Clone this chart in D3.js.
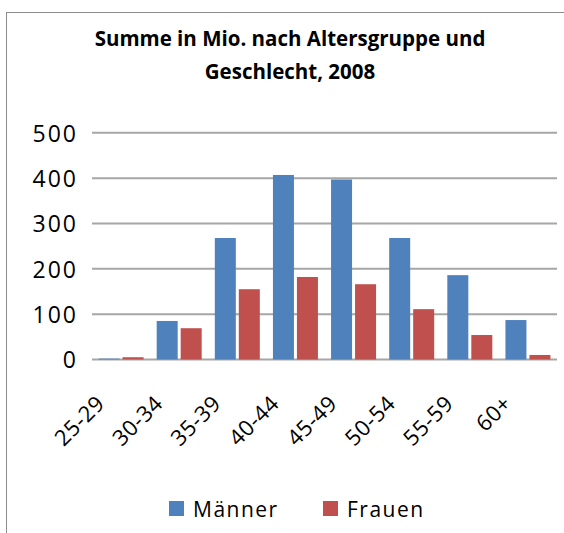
<!DOCTYPE html>
<html>
<head>
<meta charset="utf-8">
<script src="https://cdn.jsdelivr.net/npm/d3@7"></script>
<style>
body{margin:0;background:#fff;}
text{font-family:"Open Sans","Liberation Sans",sans-serif;}
</style>
</head>
<body>
<svg id="chart" width="564" height="533"></svg>
<script>
// data
var ageGroups = ["25-29","30-34","35-39","40-44","45-49","50-54","55-59","60+"]
var maenner = [2,85,268,407,397,268,186,87]
var frauen = [5,69,155,182,166,111,54,10]
var seriesNames = ["Männer","Frauen"]
var seriesColors = ["#4F81BD","#C0504D"]
var yTicks = [0,100,200,300,400,500]

var svg = d3.select("#chart")

// outer frame
svg.append("rect")
  .attr("x",6.5).attr("y",12.5)
  .attr("width",570).attr("height",540)
  .attr("fill","none").attr("stroke","#8c8c8c").attr("stroke-width",1)

svg.append("text")
  .attr("x",290).attr("y",46)
  .attr("text-anchor","middle")
  .attr("font-size",20.5).attr("font-weight","bold")
  .text("Summe in Mio. nach Altersgruppe und")
svg.append("text")
  .attr("x",290).attr("y",79)
  .attr("text-anchor","middle")
  .attr("font-size",20.5).attr("font-weight","bold")
  .text("Geschlecht, 2008")

var x = d3.scaleBand().domain(ageGroups).range([92,557]).paddingInner(0).paddingOuter(0)
var y = d3.scaleLinear().domain([0,500]).range([359.5,132.8])

// gridlines
svg.append("g").selectAll("line").data(yTicks).enter().append("line")
  .attr("x1",92).attr("x2",557)
  .attr("y1",d=>y(d)).attr("y2",d=>y(d))
  .attr("stroke","#a6a6a6").attr("stroke-width",2)

var yAxis = svg.append("g")
  .attr("transform","translate(92,0)")
  .call(d3.axisLeft(y).tickValues(yTicks).tickSize(0).tickPadding(14))
yAxis.select(".domain").remove()
yAxis.selectAll("text")
  .attr("font-size",23).attr("fill","#000")
  .attr("letter-spacing",2)
  .attr("dy","0.36em")
  .style("font-family","'Open Sans','Liberation Sans',sans-serif")

var barW = 21
var groups = svg.append("g").selectAll("g").data(ageGroups).enter().append("g")
  .attr("transform",d=>"translate("+x(d)+",0)")

groups.append("rect")
  .attr("x",d=>x.bandwidth()/2-barW-1.5)
  .attr("y",(d,i)=>y(maenner[i]))
  .attr("width",barW)
  .attr("height",(d,i)=>y(0)-y(maenner[i]))
  .attr("fill",seriesColors[0])

groups.append("rect")
  .attr("x",d=>x.bandwidth()/2+1.5)
  .attr("y",(d,i)=>y(frauen[i]))
  .attr("width",barW)
  .attr("height",(d,i)=>y(0)-y(frauen[i]))
  .attr("fill",seriesColors[1])

// x labels rotated
svg.append("g").selectAll("text").data(ageGroups).enter().append("text")
  .attr("transform",d=>"translate("+(x(d)+x.bandwidth()/2-15)+",405) rotate(-45)")
  .attr("text-anchor","end")
  .attr("font-size",22)
  .attr("letter-spacing",0.5)
  .text(d=>d)

// legend
var legX = [169,323]
var leg = svg.append("g").selectAll("g").data(seriesNames).enter().append("g")
  .attr("transform",(d,i)=>"translate("+legX[i]+",501)")
leg.append("rect").attr("width",15).attr("height",15).attr("fill",(d,i)=>seriesColors[i])
leg.append("text").attr("x",24).attr("y",16).attr("font-size",21)
  .attr("letter-spacing",1.5)
  .text(d=>d)
</script>
</body>
</html>
